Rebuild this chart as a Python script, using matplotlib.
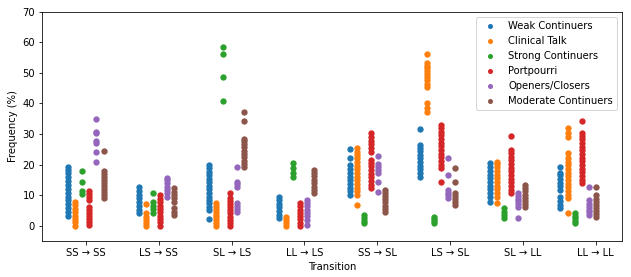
import numpy as np
import matplotlib
matplotlib.use("Agg")
import matplotlib.pyplot as plt

transitions = ["SS → SS", "LS → SS", "SL → LS", "LL → LS",
               "SS → SL", "LS → SL", "SL → LL", "LL → LL"]

groups = ["Weak Continuers", "Clinical Talk", "Strong Continuers",
          "Portpourri", "Openers/Closers", "Moderate Continuers"]

# one list of values per transition, for each group
weak_continuers = [
    [3.2, 4.5, 5.8, 7.0, 8.3, 9.5, 10.8, 12.0, 13.4, 14.6, 15.9, 17.2, 18.3, 19.3],
    [4.1, 5.3, 6.5, 7.8, 9.0, 10.2, 11.5, 12.8],
    [2.3, 5.1, 6.2, 7.3, 8.4, 9.5, 10.7, 11.9, 13.0, 14.2, 15.4, 16.5, 17.7, 18.8, 19.9],
    [2.4, 3.6, 4.8, 6.0, 7.2, 8.4, 9.5],
    [10.0, 11.2, 12.4, 13.6, 14.8, 16.0, 17.2, 18.4, 19.9, 22.0, 25.0],
    [16.0, 17.2, 18.4, 19.6, 20.8, 22.0, 23.2, 24.4, 25.4, 26.4, 31.5],
    [7.9, 9.5, 10.7, 11.9, 13.1, 14.3, 15.5, 16.7, 17.9, 19.1, 20.4],
    [5.7, 6.9, 8.2, 9.5, 11.7, 12.9, 14.1, 15.3, 16.5, 17.1, 19.3],
]
clinical_talk = [
    [0.0, 1.1, 2.2, 3.3, 4.4, 5.5, 6.7, 7.9],
    [0.0, 1.0, 2.0, 3.0, 4.1, 7.0],
    [0.0, 0.9, 1.8, 2.7, 3.6, 4.5, 5.5, 6.4, 7.3],
    [0.0, 1.0, 2.0, 2.9],
    [6.8, 10.0, 11.2, 12.4, 13.6, 14.8, 16.0, 17.2, 18.4, 19.6, 20.8, 22.0, 23.2, 24.2, 25.3],
    [37.3, 38.6, 40.0, 45.5, 46.5, 47.5, 48.5, 49.5, 50.5, 51.5, 52.3, 53.1, 56.2],
    [7.3, 9.5, 10.7, 11.9, 13.1, 14.3, 15.5, 16.7, 17.9, 19.1, 20.3, 20.9],
    [4.1, 9.0, 10.2, 11.4, 12.6, 13.8, 15.0, 16.2, 17.4, 18.6, 19.8, 21.0, 22.2, 23.7,
     29.1, 30.4, 31.9],
]
strong_continuers = [
    [10.5, 11.2, 14.3, 18.0],
    [4.1, 5.4, 6.6, 7.9, 10.8],
    [40.9, 48.7, 56.2, 58.6],
    [16.0, 17.3, 18.8, 20.4],
    [0.8, 1.7, 2.6, 3.5],
    [0.8, 1.5, 2.2, 2.9],
    [2.4, 3.5, 4.6, 5.7],
    [0.8, 1.6, 2.4, 3.2, 4.1],
]
portpourri = [
    [0.3, 1.3, 2.3, 3.3, 4.3, 5.3, 6.2, 8.4, 9.4, 10.4, 11.4],
    [0.0, 1.1, 2.2, 3.3, 4.4, 5.5, 6.6, 7.7, 8.8, 10.0],
    [0.0, 1.0, 2.0, 3.0, 4.0, 5.0, 6.0, 7.0, 8.0, 9.0, 10.8],
    [0.0, 1.0, 2.1, 3.1, 4.2, 5.2, 6.3, 7.3],
    [12.2, 13.4, 14.6, 15.8, 17.0, 18.2, 19.4, 20.5, 21.5, 24.2, 25.4, 26.6, 27.8, 29.0, 30.2],
    [14.4, 18.8, 20.0, 21.2, 22.4, 23.6, 24.8, 26.0, 27.2, 28.4, 29.6, 30.8, 31.9, 32.9],
    [10.6, 11.8, 13.0, 14.2, 15.4, 16.6, 17.8, 19.0, 20.2, 21.4, 22.6, 23.8, 24.8, 29.3],
    [13.9, 15.1, 16.3, 17.5, 18.7, 19.9, 21.1, 22.3, 23.5, 24.7, 25.9, 27.1, 28.3, 29.3,
     30.2, 34.3],
]
openers_closers = [
    [20.9, 24.2, 27.0, 27.6, 30.2, 30.8, 34.8],
    [9.5, 10.6, 11.7, 12.8, 13.9, 14.8, 15.5],
    [4.6, 5.5, 6.4, 7.3, 12.8, 13.6, 14.4, 19.1],
    [0.2, 2.0, 3.1, 4.2, 5.2, 6.3, 7.4, 8.4],
    [10.9, 14.4, 17.3, 18.2, 19.2, 20.2, 22.8],
    [9.0, 9.9, 10.8, 11.7, 16.6, 22.0],
    [2.4, 6.2, 7.1, 8.0, 8.9, 9.8, 10.6],
    [3.5, 4.4, 5.3, 6.2, 7.1, 8.4, 12.8],
]
moderate_continuers = [
    [9.0, 10.0, 11.0, 12.0, 13.0, 14.0, 15.0, 16.0, 17.0, 17.9, 24.5],
    [3.5, 4.6, 5.7, 7.9, 9.0, 10.1, 11.1, 12.2],
    [19.1, 20.2, 21.3, 22.4, 23.5, 24.6, 25.7, 26.8, 27.8, 28.4, 34.2, 37.1],
    [10.6, 11.7, 12.8, 13.9, 15.0, 16.1, 17.2, 18.2],
    [4.6, 5.6, 6.6, 7.6, 8.6, 9.6, 10.6, 11.7],
    [6.8, 7.8, 8.8, 9.8, 10.6, 14.4, 18.8],
    [6.2, 7.2, 8.2, 9.2, 10.2, 11.2, 12.2, 13.3],
    [2.9, 3.9, 4.9, 5.9, 6.9, 7.9, 8.9, 10.0, 12.6],
]

series = [weak_continuers, clinical_talk, strong_continuers,
          portpourri, openers_closers, moderate_continuers]


def main():
    fig = plt.figure(figsize=(631 / 72, 277 / 72), dpi=72)
    ax = fig.add_axes([42 / 631, 36 / 277, 580 / 631, 229.3 / 277])

    for k, (name, values) in enumerate(zip(groups, series)):
        xs, ys = [], []
        for i, vals in enumerate(values):
            xs += [i + (k - 2.5) * 0.1] * len(vals)
            ys += vals
        ax.scatter(xs, ys, s=40, color=f"C{k}", label=name, linewidths=0)

    # tick labels are spread a bit wider than the point groups
    ax.set_xticks(np.linspace(0, 7.25, len(transitions)))
    ax.set_xticklabels(transitions)
    ax.set_ylim(-5, 70)
    ax.set_yticks(np.arange(0, 71, 10))
    ax.set_xlabel("Transition")
    ax.set_ylabel("Frequency (%)")
    ax.legend(loc="upper right", markerscale=0.8)
    fig.savefig("out.png", dpi=72)


if __name__ == "__main__":
    main()
